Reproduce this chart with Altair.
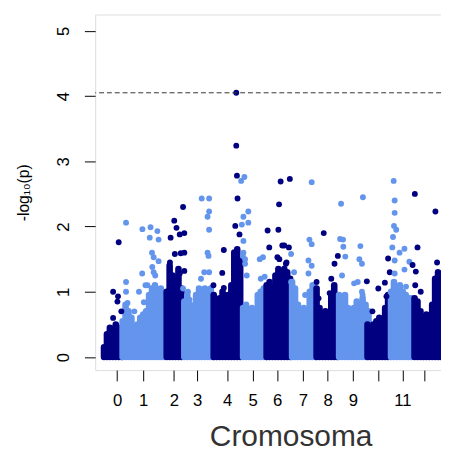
import altair as alt
import pandas as pd

# chromosome layout (cumulative position units)
chrom_ids = list(range(13))
chrom_centers = [22.3, 49, 80.3, 104, 134.7, 160.7, 185.7, 212, 237.3, 263, 289, 313.7, 336.3]
chrom_tick_labels = ["0", "1", "2", "3", "4", "5", "6", "7", "8", "9", "", "11", ""]

# dense body of each chromosome: (position, upper -log10 p of the packed points)
c0_body = [(9, 0.15), (12, 0.35), (15, 0.45), (18, 0.4), (21, 0.5), (24, 0.45), (27, 0.3)]
c1_body = [(28, 0.55), (31, 0.8), (34, 0.7), (37, 0.6), (40, 0.45), (43, 0.5), (46, 0.6), (49, 0.65),
           (52, 0.7), (55, 0.95), (58, 1.05), (61, 1.1), (64, 1.0), (67, 1.05), (70, 0.9)]
c2_body = [(73, 1.0), (76, 1.4), (79, 1.25), (82, 1.15), (85, 1.35), (88, 1.05)]
c3_body = [(91, 0.85), (94, 0.95), (97, 0.8), (100, 0.75), (103, 0.95), (106, 1.05), (109, 1.0),
           (112, 1.05), (115, 1.0), (118, 1.05), (121, 0.85)]
c4_body = [(121, 0.95), (124, 0.85), (127, 0.9), (130, 1.0), (133, 0.85), (136, 0.95), (139, 1.1),
           (142, 1.6), (145, 1.65), (148, 1.5)]
c5_body = [(151, 0.75), (154, 0.8), (157, 0.7), (160, 0.75), (163, 0.7), (166, 0.95), (169, 1.0),
           (172, 1.05), (175, 0.9)]
c6_body = [(175, 1.1), (178, 1.15), (181, 1.05), (184, 1.25), (187, 1.35), (190, 1.3), (193, 1.35),
           (196, 1.3), (199, 1.2)]
c7_body = [(201, 1.15), (204, 1.05), (207, 0.8), (210, 0.7), (213, 0.75), (216, 0.7), (219, 1.0),
           (222, 1.1), (225, 1.05)]
c8_body = [(226, 1.05), (229, 0.75), (232, 0.65), (235, 0.7), (238, 0.65), (241, 0.95), (244, 1.1),
           (247, 0.9)]
c9_body = [(249, 0.95), (252, 0.9), (255, 0.95), (258, 0.75), (261, 0.7), (264, 0.75), (267, 0.85),
           (270, 0.8), (273, 0.9), (276, 0.8), (279, 0.7)]
c10_body = [(278, 0.5), (281, 0.45), (284, 0.5), (287, 0.55), (290, 0.6), (293, 0.55), (296, 0.75),
            (299, 0.95)]
c11_body = [(302, 1.0), (305, 1.15), (308, 1.05), (311, 1.1), (314, 1.0), (317, 0.95), (320, 0.9),
            (323, 0.9)]
c12_body = [(326, 0.9), (329, 0.85), (332, 0.7), (335, 0.6), (338, 0.65), (341, 0.6), (344, 0.8),
            (347, 1.2), (350, 1.3), (353, 1.2)]

# individual markers standing out above the bodies: (position, -log10 p)
c0_hits = [(24, 1.76), (18.3, 1.0), (23.3, 0.93), (22.7, 0.85), (26.7, 0.7), (18.3, 0.6), (20, 0.45),
           (13.3, 0.3), (11.7, 0.12)]
c1_hits = [(31.5, 2.06), (48.2, 1.96), (56.5, 1.99), (63.5, 1.93), (55.7, 1.83), (64.7, 1.8), (58, 1.6),
           (59.7, 1.53), (64.7, 1.47), (48, 1.28), (59.7, 1.3), (61.3, 1.25), (31.5, 1.15), (51.3, 1.1),
           (44.7, 1.0), (31.5, 1.0), (33, 0.83), (49.7, 0.84), (40, 0.7), (58.3, 1.38), (53.3, 1.1)]
c2_hits = [(89.7, 2.3), (80.7, 2.09), (83, 1.98), (86.3, 1.88), (77, 1.83), (87.3, 1.59), (81.3, 1.58),
           (76.3, 1.45), (86.3, 1.28), (91, 1.9), (91, 1.6), (91, 1.32), (73, 0.98)]
c3_hits = [(108.7, 2.43), (116.3, 2.43), (116.3, 2.23), (114.7, 2.15), (116.3, 1.95), (114.7, 1.6),
           (115.7, 1.55), (111.3, 1.3), (116.3, 1.3), (108, 1.2), (94.7, 1.0), (89.7, 1.05), (96.3, 0.88)]
c4_hits = [(144, 4.05), (144, 3.24), (144.7, 2.78), (145.3, 2.43), (143, 2.01), (147.3, 1.88),
           (131.3, 1.64), (129.7, 1.29), (120.7, 1.1), (131.3, 1.06), (133, 0.95)]
c5_hits = [(152.3, 2.76), (149, 2.7), (156.3, 2.23), (151.3, 2.15), (156.3, 2.06), (149.7, 2.03),
           (151.3, 1.78), (151.3, 1.6), (150.7, 1.55), (153, 1.5), (153, 1.43), (154.7, 1.25),
           (171.3, 1.53), (168, 1.5), (173, 1.23), (169, 1.2)]
c6_hits = [(189.3, 2.69), (198.7, 2.73), (187.7, 2.34), (176, 1.94), (187, 1.95), (191, 1.71),
           (197.7, 1.68), (177.7, 1.68), (186, 1.53), (195.3, 1.45), (193, 1.71), (188, 1.5), (194.7, 1.43)]
c7_hits = [(221, 2.68), (218.7, 1.8), (221, 1.73), (217.7, 1.48), (221, 1.4), (217.7, 1.28), (200, 1.58),
           (200, 1.15), (214.3, 0.95), (203, 1.3)]
c8_hits = [(233.3, 1.9), (226, 1.15), (247.7, 1.55), (244.3, 1.43), (241, 1.2), (239.3, 0.98), (228, 0.9)]
c9_hits = [(251, 2.35), (273.3, 2.45), (250, 1.81), (253.3, 1.69), (255.3, 1.54), (252, 1.25),
           (264.3, 1.13), (270.7, 1.7), (269.7, 1.5), (272.3, 1.43), (268, 1.15), (273, 0.95),
           (253, 1.8), (272.3, 1.0)]
c10_hits = [(277.3, 1.16), (289, 1.05), (299, 1.51), (295.7, 1.14), (300.7, 1.3), (297.3, 0.93), (283, 0.7)]
c11_hits = [(304.7, 2.7), (305.7, 2.4), (305.7, 2.21), (305, 2.01), (307.3, 1.95), (304, 1.84),
            (303.3, 1.68), (315.7, 1.66), (310.7, 1.6), (305.7, 1.48), (320.7, 1.46), (315.7, 1.34),
            (305.7, 1.28), (317.3, 1.08), (319, 0.91)]
c12_hits = [(326.3, 2.5), (347.3, 2.23), (329, 1.68), (324, 1.41), (327.3, 1.31), (326.7, 1.1),
            (332.3, 1.0), (349, 1.45), (349, 1.15)]

threshold = [4.05]

bodies = [c0_body, c1_body, c2_body, c3_body, c4_body, c5_body, c6_body, c7_body, c8_body,
          c9_body, c10_body, c11_body, c12_body]
hits = [c0_hits, c1_hits, c2_hits, c3_hits, c4_hits, c5_hits, c6_hits, c7_hits, c8_hits,
        c9_hits, c10_hits, c11_hits, c12_hits]

body_rows, hit_rows = [], []
for cid, b, h in zip(chrom_ids, bodies, hits):
    grp = "even" if cid % 2 == 0 else "odd"
    for p, v in b:
        body_rows.append({"pos": p, "base": 0.0, "logp": v, "grp": grp, "chrom": cid})
    for p, v in h:
        hit_rows.append({"pos": p, "logp": v, "grp": grp, "chrom": cid})
body_df = pd.DataFrame(body_rows)
hit_df = pd.DataFrame(hit_rows)

NAVY = "#000080"
LIGHT = "#6495ED"
FONT = "Liberation Sans"

color = alt.Color("grp:N", scale=alt.Scale(domain=["even", "odd"], range=[NAVY, LIGHT]), legend=None)

lab_expr = "[" + ",".join("'%s'" % s for s in chrom_tick_labels) + "][indexof([" + \
    ",".join(str(c) for c in chrom_centers) + "], datum.value)]"

W, H = 353, 363

xscale = alt.Scale(domain=[0, 353], nice=False, zero=False)
yscale = alt.Scale(domain=[-0.2, 5.25], nice=False, zero=False)

xaxis = alt.Axis(values=chrom_centers, tickCount=len(chrom_centers), labelExpr=lab_expr, tickSize=11,
                 tickColor="#000", labelFontSize=17, labelFont=FONT, labelColor="#000", labelPadding=25.5,
                 labelBaseline="alphabetic", labelAlign="center", labelFlush=False, labelOverlap=False,
                 domain=False, grid=False, title="Cromosoma", titleFont=FONT, titleFontSize=30.5,
                 titleFontWeight="normal", titleColor="#333", titleX=199.5, titleY=76.5,
                 titleBaseline="alphabetic", titleAlign="center")
yaxis = alt.Axis(values=[0, 1, 2, 3, 4, 5], tickCount=6, format="d", tickSize=11, tickColor="#000",
                 labelAngle=270, labelAlign="center", labelBaseline="alphabetic", labelPadding=16,
                 labelFontSize=17, labelFont=FONT, labelColor="#000", domain=False, grid=False,
                 title="-log₁₀(p)", titleFont=FONT, titleFontSize=16, titleFontWeight="normal",
                 titleColor="#000", titleAngle=270, titleX=-68, titleY=181.5, titleAlign="center",
                 titleBaseline="alphabetic")

body = alt.Chart(body_df).mark_rule(strokeWidth=6.7, strokeCap="round").encode(
    x=alt.X("pos:Q", scale=xscale, axis=xaxis),
    y=alt.Y("base:Q", scale=yscale, axis=yaxis),
    y2="logp:Q",
    color=color,
)

points = alt.Chart(hit_df).mark_circle(size=36, opacity=1).encode(
    x=alt.X("pos:Q", scale=xscale),
    y=alt.Y("logp:Q", scale=yscale),
    color=color,
)

thr = alt.Chart(pd.DataFrame({"t": threshold})).mark_rule(
    strokeDash=[5, 3], color="#333", strokeWidth=1).encode(
    y=alt.Y("t:Q", scale=yscale))

chart = alt.layer(body, points, thr).properties(
    width=W, height=H,
    autosize=alt.AutoSizeParams(type="none"),
    padding={"left": 89, "top": 2, "right": 0, "bottom": 80},
).configure_view(stroke="#000", strokeWidth=1).configure(background="white")

chart.save("out.html", embed_options={"renderer": "svg", "actions": False})
